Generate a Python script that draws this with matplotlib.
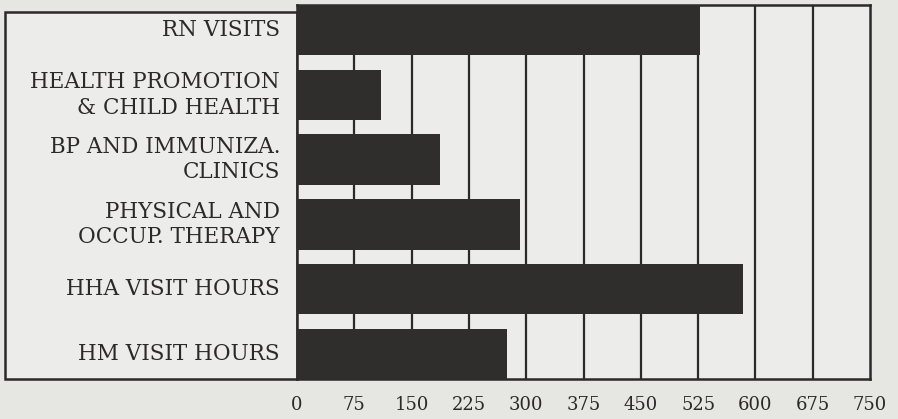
import matplotlib
matplotlib.use("Agg")
import matplotlib.pyplot as plt
from matplotlib.patches import Rectangle

categories = [
    "RN VISITS",
    "HEALTH PROMOTION\n& CHILD HEALTH",
    "BP AND IMMUNIZA.\nCLINICS",
    "PHYSICAL AND\nOCCUP. THERAPY",
    "HHA VISIT HOURS",
    "HM VISIT HOURS",
]
values = [527, 110, 187, 292, 584, 275]
ticks = [0, 75, 150, 225, 300, 375, 450, 525, 600, 675, 750]

bg = "#e6e6e3"
ink = "#2b2a29"

plt.rcParams["font.family"] = ["DejaVu Serif"]

fig = plt.figure(figsize=(8.98, 4.19), dpi=100, facecolor=bg)
ax = fig.add_axes([297 / 898, 1 - 379 / 419, 573 / 898, 374 / 419])
ax.set_facecolor("#ececea")

pos = list(range(len(categories)))
ax.barh(pos, values, height=0.78, color="#302e2d", zorder=3)

ax.set_xlim(0, 750)
ax.set_ylim(len(categories) - 1 + 0.39, -0.39)
ax.set_xticks(ticks)
ax.set_xticklabels([str(t) for t in ticks], fontsize=13, color=ink)
ax.tick_params(axis="x", length=0, pad=12)
ax.set_yticks([])
for t in ticks[1:-1]:
    ax.axvline(t, color=ink, lw=1.6, zorder=1)
for s in ax.spines.values():
    s.set_color(ink)
    s.set_linewidth(1.8)

# label panel on the left, kept behind the axes
fig.patches.append(Rectangle((5 / 898, 1 - 379 / 419), 292 / 898, 367 / 419,
                             transform=fig.transFigure, facecolor="#ececea",
                             edgecolor=ink, lw=1.8, zorder=-1))
for p, name in zip(pos, categories):
    ax.text(-17 / 573 * 750, p, name, ha="right", va="center", fontsize=15.5,
            color=ink, linespacing=1.2, clip_on=False)

fig.savefig("out.png", dpi=100, facecolor=bg)
